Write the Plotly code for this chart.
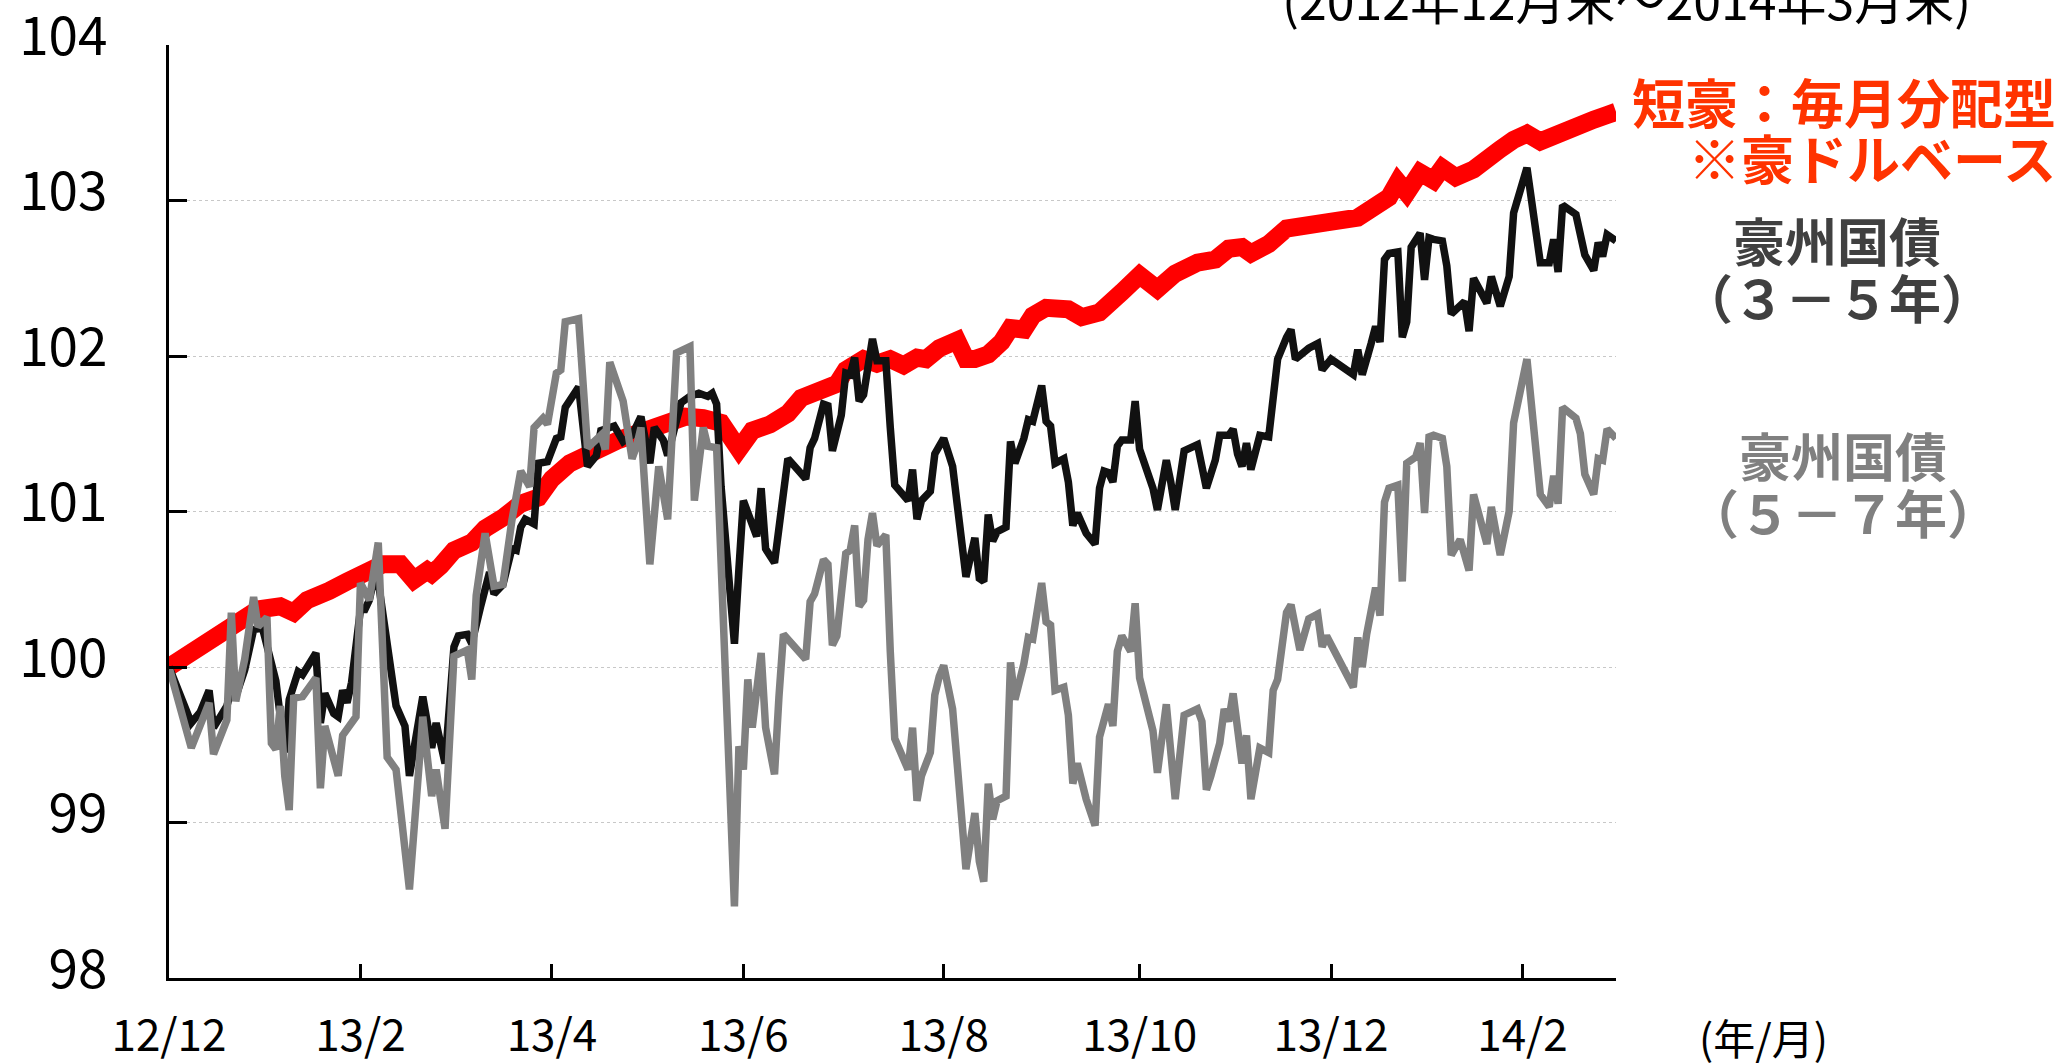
import pandas as pd
import plotly.graph_objects as go

# business-day index counted from 2012-12-31, and index level (2012-12-31 = 100)
aud_day = [0, 6, 8, 12, 16, 20, 25, 28, 31, 34, 36, 40, 44, 48, 52, 55, 58, 59, 61, 64,
           68, 71, 75, 79, 83, 86, 90, 94, 98, 101, 105, 109, 113, 116, 120, 124, 128, 131, 135, 137,
           139, 142, 147, 150, 152, 156, 159, 162, 165, 168, 170, 173, 177, 179, 181, 184, 187, 189, 192, 194,
           197, 200, 202, 205, 209, 214, 218, 222, 226, 231, 235, 238, 241, 243, 247, 251, 256, 260, 267, 271,
           274, 276, 278, 281, 284, 286, 289, 293, 296, 299, 302, 305, 308, 311, 314, 317, 320, 323, 325]
aud_val = [100.00, 100.11, 100.15, 100.22, 100.30, 100.37, 100.39, 100.35, 100.43, 100.45,
           100.49, 100.55, 100.62, 100.66, 100.66, 100.56, 100.62, 100.60, 100.65, 100.75,
           100.80, 100.89, 100.96, 101.05, 101.09, 101.21, 101.31, 101.37, 101.41, 101.46,
           101.50, 101.54, 101.59, 101.61, 101.60, 101.57, 101.40, 101.52, 101.56, 101.60,
           101.63, 101.73, 101.79, 101.82, 101.91, 101.98, 101.95, 101.98, 101.94, 101.99,
           101.98, 102.05, 102.10, 101.98, 101.98, 102.01, 102.09, 102.18, 102.17, 102.26,
           102.31, 102.30, 102.30, 102.25, 102.28, 102.41, 102.52, 102.43, 102.53, 102.60,
           102.62, 102.69, 102.70, 102.66, 102.72, 102.82, 102.83, 102.86, 102.89, 102.96,
           103.02, 103.12, 103.05, 103.18, 103.13, 103.21, 103.15, 103.20, 103.28, 103.33,
           103.39, 103.43, 103.38, 103.42, 103.46, 103.51, 103.52, 103.55, 103.57]

gov35_day = [0, 5, 7, 9, 10, 13, 14, 15, 17, 19, 21, 24, 26, 27, 29, 30, 33, 34, 35, 37,
             38, 39, 40, 41, 43, 44, 45, 46, 47, 51, 53, 54, 57, 59, 60, 62, 64, 65, 67, 68,
             70, 72, 73, 75, 77, 78, 79, 80, 82, 83, 85, 87, 88, 89, 92, 94, 96, 97, 100, 102,
             104, 106, 108, 109, 111, 112, 115, 117, 119, 121, 122, 123, 124, 127, 128, 129, 132, 133, 134, 136,
             139, 141, 143, 144, 145, 147, 148, 149, 150, 151, 152, 153, 154, 155, 156, 158, 159, 161, 162, 163,
             166, 167, 168, 169, 171, 172, 173, 174, 176, 178, 179, 181, 182, 183, 184, 185, 186, 188, 189, 190,
             192, 193, 194, 196, 197, 198, 199, 201, 202, 203, 204, 206, 208, 209, 210, 211, 212, 213, 214, 216,
             217, 218, 221, 222, 224, 225, 226, 228, 231, 233, 234, 235, 236, 238, 239, 240, 241, 242, 243, 245,
             247, 248, 249, 251, 252, 253, 256, 258, 259, 261, 266, 267, 268, 270, 271, 272, 273, 274, 276, 277,
             278, 279, 281, 282, 283, 284, 286, 287, 288, 291, 292, 293, 296, 297, 299, 301, 302, 305, 308, 310,
             311, 312, 313, 316, 317, 318, 320, 321, 322, 323, 325]
gov35_val = [100.00, 99.64, 99.71, 99.85, 99.61, 99.75, 99.85, 99.81, 99.98, 100.24,
             100.25, 99.91, 99.45, 99.79, 99.97, 99.95, 100.09, 99.64, 99.83, 99.70,
             99.68, 99.85, 99.77, 99.90, 100.37, 100.37, 100.43, 100.56, 100.55, 99.75,
             99.62, 99.30, 99.81, 99.48, 99.64, 99.38, 100.13, 100.20, 100.21, 100.15,
             100.39, 100.61, 100.47, 100.53, 100.76, 100.75, 100.90, 100.95, 100.92, 101.31,
             101.32, 101.47, 101.48, 101.67, 101.80, 101.29, 101.36, 101.52, 101.55, 101.45,
             101.49, 101.61, 101.31, 101.54, 101.46, 101.36, 101.70, 101.74, 101.76, 101.74,
             101.76, 101.69, 101.16, 100.15, 100.63, 101.07, 100.84, 101.15, 100.76, 100.67,
             101.34, 101.28, 101.21, 101.41, 101.47, 101.69, 101.68, 101.39, 101.53, 101.62,
             101.89, 101.88, 101.99, 101.71, 101.75, 102.11, 101.97, 101.97, 101.54, 101.17,
             101.07, 101.27, 100.95, 101.07, 101.13, 101.37, 101.42, 101.47, 101.29, 100.85,
             100.58, 100.83, 100.57, 100.55, 100.98, 100.81, 100.87, 100.90, 101.45, 101.31,
             101.47, 101.59, 101.58, 101.81, 101.58, 101.55, 101.31, 101.34, 101.19, 100.91,
             100.99, 100.86, 100.79, 101.15, 101.26, 101.25, 101.19, 101.42, 101.46, 101.46,
             101.71, 101.40, 101.15, 101.01, 101.33, 101.19, 101.01, 101.39, 101.43, 101.15,
             101.26, 101.33, 101.49, 101.49, 101.53, 101.37, 101.29, 101.44, 101.27, 101.49,
             101.48, 101.73, 101.98, 102.12, 102.17, 101.98, 102.05, 102.08, 101.91, 101.98,
             101.88, 102.04, 101.88, 102.08, 102.19, 102.09, 102.62, 102.66, 102.67, 102.12,
             102.22, 102.70, 102.79, 102.49, 102.76, 102.75, 102.74, 102.58, 102.27, 102.35,
             102.16, 102.50, 102.34, 102.51, 102.32, 102.51, 102.92, 103.21, 102.60, 102.60,
             102.75, 102.54, 102.97, 102.91, 102.80, 102.65, 102.55, 102.73, 102.64, 102.78,
             102.74]

gov57_day = [0, 5, 9, 10, 13, 14, 15, 17, 19, 20, 22, 23, 24, 25, 26, 27, 28, 30, 33, 34,
             35, 38, 39, 42, 43, 45, 47, 49, 51, 52, 54, 57, 59, 60, 62, 64, 67, 68, 69, 71,
             73, 75, 77, 79, 81, 82, 84, 85, 87, 88, 89, 92, 94, 97, 98, 99, 102, 104, 105, 106,
             108, 110, 112, 114, 117, 118, 120, 121, 123, 127, 128, 129, 130, 131, 133, 134, 136, 137, 138, 143,
             144, 145, 147, 148, 149, 150, 151, 152, 153, 154, 155, 156, 157, 158, 159, 161, 162, 163, 166, 167,
             168, 169, 171, 172, 173, 174, 176, 179, 181, 182, 183, 184, 185, 186, 188, 189, 190, 192, 193, 194,
             196, 197, 198, 199, 201, 202, 203, 204, 206, 208, 209, 210, 211, 212, 213, 214, 216, 217, 218, 221,
             222, 224, 225, 226, 228, 231, 232, 233, 234, 236, 237, 238, 239, 240, 241, 242, 243, 245, 247, 248,
             249, 251, 252, 254, 256, 258, 259, 260, 266, 267, 268, 269, 271, 272, 273, 274, 276, 277, 278, 280,
             281, 282, 283, 284, 286, 287, 288, 290, 292, 293, 296, 297, 299, 301, 302, 305, 308, 310, 311, 312,
             313, 316, 317, 318, 320, 321, 322, 323, 325]
gov57_val = [100.00, 99.48, 99.77, 99.44, 99.66, 100.35, 99.78, 100.05, 100.45, 100.26,
             100.32, 99.51, 99.47, 99.75, 99.30, 99.08, 99.80, 99.81, 99.93, 99.22,
             99.62, 99.30, 99.56, 99.68, 100.54, 100.43, 100.80, 99.42, 99.34, 99.07,
             98.57, 99.68, 99.17, 99.34, 98.96, 100.07, 100.11, 99.92, 100.46, 100.86,
             100.52, 100.53, 100.94, 101.26, 101.16, 101.54, 101.60, 101.56, 101.89, 101.91,
             102.22, 102.24, 101.41, 101.49, 101.40, 101.96, 101.71, 101.34, 101.42, 101.54,
             100.66, 101.29, 100.95, 102.02, 102.06, 101.07, 101.54, 101.42, 101.41, 98.46,
             99.49, 99.34, 99.92, 99.61, 100.09, 99.61, 99.31, 99.81, 100.21, 100.05,
             100.42, 100.47, 100.69, 100.66, 100.14, 100.20, 100.45, 100.73, 100.75, 100.91,
             100.39, 100.43, 100.82, 100.99, 100.78, 100.85, 100.10, 99.54, 99.34, 99.61,
             99.14, 99.30, 99.45, 99.82, 99.94, 100.01, 99.73, 98.70, 99.06, 98.75,
             98.62, 99.25, 99.02, 99.14, 99.17, 100.03, 99.79, 100.02, 100.19, 100.18,
             100.54, 100.29, 100.27, 99.85, 99.87, 99.69, 99.25, 99.38, 99.15, 98.98,
             99.55, 99.65, 99.76, 99.62, 100.10, 100.20, 100.10, 100.41, 99.93, 99.59,
             99.32, 99.76, 99.45, 99.15, 99.69, 99.73, 99.65, 99.21, 99.30, 99.51,
             99.73, 99.65, 99.83, 99.55, 99.38, 99.56, 99.15, 99.48, 99.45, 99.85,
             99.92, 100.35, 100.40, 100.11, 100.31, 100.34, 100.13, 100.20, 99.87, 100.19,
             100.00, 100.21, 100.51, 100.33, 101.06, 101.15, 101.17, 100.55, 101.31, 101.35,
             101.44, 100.99, 101.48, 101.49, 101.47, 101.29, 100.72, 100.82, 100.62, 101.11,
             100.79, 101.03, 100.72, 101.00, 101.57, 101.98, 101.11, 101.03, 101.23, 101.05,
             101.67, 101.60, 101.50, 101.24, 101.11, 101.34, 101.33, 101.53, 101.47]

tick_dates = ["2012-12-31", "2013-02-28", "2013-04-30", "2013-06-28", "2013-08-30",
              "2013-10-31", "2013-12-31", "2014-02-28"]
tick_labels = ["12/12", "13/2", "13/4", "13/6", "13/8", "13/10", "13/12", "14/2"]

bdays = pd.bdate_range("2012-12-31", "2014-03-31")

JP = "Noto Sans CJK JP"

fig = go.Figure()
fig.add_trace(go.Scatter(x=bdays[aud_day], y=aud_val, mode="lines",
                         line=dict(color="#ff0000", width=18)))
fig.add_trace(go.Scatter(x=bdays[gov35_day], y=gov35_val, mode="lines",
                         line=dict(color="#111111", width=7.5)))
fig.add_trace(go.Scatter(x=bdays[gov57_day], y=gov57_val, mode="lines",
                         line=dict(color="#808080", width=7.5)))

fig.update_layout(
    width=2062, height=1063,
    margin=dict(l=169, r=446, t=45, b=85),
    plot_bgcolor="white", paper_bgcolor="white",
    showlegend=False,
    font=dict(family=JP, color="black"),
    xaxis=dict(
        range=[bdays[0], bdays[-1]],
        rangebreaks=[dict(bounds=["sat", "mon"])],
        tickvals=tick_dates, ticktext=tick_labels,
        ticks="inside", ticklen=14, tickwidth=3, tickcolor="black",
        showline=True, linecolor="black", linewidth=3,
        showgrid=False, zeroline=False, automargin=False,
        tickfont=dict(size=44, family=JP),
        ticklabelstandoff=17,
    ),
    yaxis=dict(
        range=[98, 104], dtick=1,
        ticks="inside", ticklen=18, tickwidth=3, tickcolor="black",
        showline=True, linecolor="black", linewidth=3,
        showgrid=True, gridcolor="#c8c8c8", griddash="dot", gridwidth=1,
        zeroline=False, automargin=False, ticklabeloverflow="allow",
        tickfont=dict(size=53, family=JP),
        ticklabelstandoff=48, ticklabelshift=-9,
    ),
)

def note(text, x, y, color, size=52, bold=True, xanchor="center"):
    fig.add_annotation(
        text=f"<b>{text}</b>" if bold else text,
        x=x, y=y, xref="paper", yref="paper", xanchor=xanchor, yanchor="middle",
        showarrow=False, font=dict(family=JP, size=size, color=color),
    )

note("短豪：毎月分配型", 1.3055, 0.940, "#ff3300", size=53, xanchor="right")
note("※豪ドルベース", 1.3055, 0.880, "#ff3300", size=53, xanchor="right")
note("豪州国債", 1.1527, 0.792, "#404040")
note("（３－５年）", 1.1527, 0.730, "#404040")
note("豪州国債", 1.1569, 0.561, "#808080")
note("（５－７年）", 1.1569, 0.500, "#808080")
note("(2012年12月末～2014年3月末)", 1.0073, 1.0503, "black", size=50, bold=False)
note("(年/月)", 1.1016, -0.0622, "black", size=42, bold=False)

fig.write_html("out.html", config={"displayModeBar": False},
               post_script="document.body.style.margin = '0';")
